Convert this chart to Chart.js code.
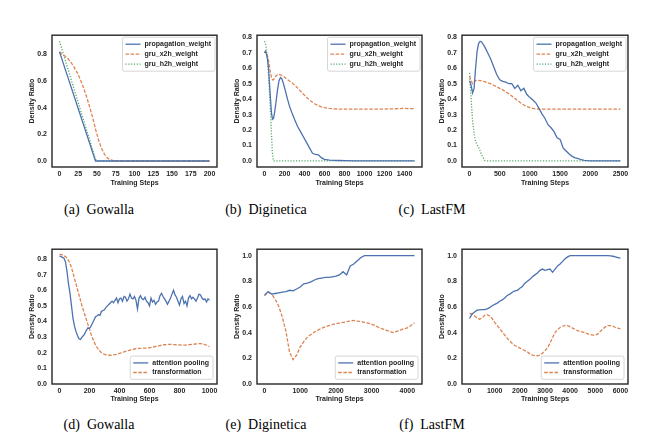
<!DOCTYPE html>
<html>
<head>
<meta charset="utf-8">
<script src="https://cdn.jsdelivr.net/npm/chart.js@4"></script>
<style>
  body { margin: 0; width: 646px; height: 447px; background: #fff; position: relative; overflow: hidden; }
  canvas { position: absolute; }
  .cap { position: absolute; width: 160px; height: 20px; line-height: 20px; text-align: center;
         font-family: "Liberation Serif", "DejaVu Serif", serif; font-size: 14px; color: #000; white-space: pre; }
</style>
</head>
<body>
<div class="cap" style="left:19px;top:200px">(a)  Gowalla</div>
<div class="cap" style="left:186px;top:200px">(b)  Diginetica</div>
<div class="cap" style="left:352px;top:200px">(c)  LastFM</div>
<div class="cap" style="left:19px;top:415px">(d)  Gowalla</div>
<div class="cap" style="left:186px;top:415px">(e)  Diginetica</div>
<div class="cap" style="left:352px;top:415px">(f)  LastFM</div>
<script>
// ---- data ----
const stepsA = [0,4,8,12,16,20,24,28,32,36,40,44,48,52,56,60,64,68,72,76,80,100,120,140,160,180,200];
const propA = [0.82,0.752,0.683,0.615,0.547,0.478,0.41,0.342,0.273,0.205,0.137,0.068,0,0,0,0,0,0,0,0,0,0,0,0,0,0,0];
const x2hA  = [0.82,0.80,0.785,0.765,0.735,0.70,0.66,0.61,0.55,0.485,0.41,0.33,0.24,0.16,0.095,0.05,0.022,0.008,0.003,0.001,0,0,0,0,0,0,0];
const h2hA  = [0.9,0.826,0.752,0.678,0.604,0.53,0.456,0.383,0.309,0.235,0.161,0.087,0.013,0,0,0,0,0,0,0,0,0,0,0,0,0,0];

const stepsB = [0,10,20,30,40,50,60,70,80,90,100,115,130,145,160,175,190,210,230,250,272,300,330,360,390,420,450,480,510,540,570,600,650,700,750,800,900,1000,1100,1200,1300,1400,1500];
const propB = [0.70,0.71,0.69,0.66,0.60,0.50,0.40,0.31,0.27,0.275,0.31,0.38,0.46,0.52,0.54,0.53,0.50,0.45,0.40,0.355,0.315,0.27,0.225,0.19,0.155,0.12,0.085,0.05,0.042,0.04,0.02,0.01,0.006,0.004,0.003,0.002,0.001,0,0,0,0,0,0];
const x2hB  = [0.70,0.71,0.70,0.68,0.65,0.61,0.57,0.54,0.525,0.525,0.535,0.55,0.56,0.56,0.558,0.553,0.547,0.537,0.527,0.518,0.508,0.492,0.473,0.452,0.432,0.413,0.395,0.38,0.367,0.357,0.35,0.345,0.34,0.337,0.336,0.335,0.335,0.335,0.335,0.336,0.338,0.34,0.338];
const h2hB  = [0.775,0.76,0.72,0.66,0.56,0.44,0.32,0.17,0.04,0,0,0,0,0,0,0,0,0,0,0,0,0,0,0,0,0,0,0,0,0,0,0,0,0,0,0,0,0,0,0,0,0,0];

const stepsC = [0,25,50,75,100,125,150,175,200,250,300,350,400,450,500,550,600,650,700,750,800,850,900,950,1000,1050,1100,1150,1200,1250,1300,1350,1400,1450,1500,1550,1600,1650,1700,1750,1800,1850,1900,1950,2000,2100,2200,2300,2400,2500];
const propC = [0.52,0.49,0.44,0.47,0.60,0.71,0.76,0.775,0.77,0.74,0.70,0.66,0.61,0.56,0.525,0.515,0.51,0.50,0.50,0.47,0.49,0.455,0.47,0.43,0.41,0.395,0.375,0.34,0.305,0.275,0.235,0.215,0.19,0.15,0.14,0.085,0.065,0.045,0.03,0.02,0.015,0.008,0.004,0.002,0.001,0,0,0,0,0];
const x2hC  = [0.55,0.52,0.50,0.51,0.52,0.522,0.522,0.52,0.518,0.513,0.507,0.50,0.49,0.48,0.47,0.46,0.447,0.435,0.42,0.405,0.39,0.375,0.362,0.352,0.345,0.34,0.337,0.335,0.335,0.335,0.335,0.335,0.335,0.335,0.335,0.335,0.335,0.335,0.335,0.335,0.335,0.335,0.335,0.335,0.335,0.335,0.335,0.335,0.335,0.335];
const h2hC  = [0.57,0.41,0.26,0.18,0.125,0.105,0.09,0.065,0.04,0.003,0,0,0,0,0,0,0,0,0,0,0,0,0,0,0,0,0,0,0,0,0,0,0,0,0,0,0,0,0,0,0,0,0,0,0,0,0,0,0,0];

const stepsD = [0,10,20,30,40,50,60,70,80,90,100,110,120,130,140,150,160,170,180,190,200,210,220,230,240,250,260,270,280,290,300,310,320,330,340,350,360,370,380,390,400,410,420,430,440,450,460,470,480,490,500,510,520,530,540,550,560,570,580,590,600,610,620,630,640,650,660,670,680,690,700,710,720,730,740,750,760,770,780,790,800,810,820,830,840,850,860,870,880,890,900,910,920,930,940,950,960,970,980,990,1000];
const attD = [0.82,0.815,0.81,0.805,0.78,0.72,0.64,0.58,0.50,0.42,0.37,0.335,0.31,0.29,0.285,0.30,0.31,0.325,0.345,0.36,0.355,0.37,0.39,0.41,0.43,0.435,0.445,0.44,0.465,0.47,0.475,0.49,0.50,0.51,0.52,0.53,0.52,0.535,0.55,0.52,0.545,0.55,0.53,0.56,0.555,0.53,0.545,0.575,0.55,0.545,0.56,0.535,0.48,0.55,0.565,0.545,0.54,0.555,0.53,0.52,0.50,0.55,0.525,0.535,0.51,0.525,0.53,0.565,0.58,0.56,0.545,0.53,0.51,0.53,0.55,0.575,0.60,0.57,0.555,0.53,0.505,0.545,0.56,0.515,0.53,0.50,0.55,0.565,0.545,0.555,0.545,0.53,0.55,0.575,0.57,0.55,0.54,0.545,0.525,0.545,0.535];
const transD = [0.83,0.83,0.825,0.82,0.815,0.805,0.79,0.77,0.745,0.71,0.675,0.64,0.605,0.57,0.535,0.50,0.47,0.44,0.41,0.38,0.35,0.32,0.295,0.27,0.25,0.235,0.22,0.21,0.2,0.195,0.19,0.187,0.185,0.184,0.184,0.185,0.186,0.188,0.19,0.193,0.196,0.199,0.202,0.205,0.208,0.211,0.214,0.217,0.22,0.222,0.224,0.226,0.227,0.228,0.228,0.229,0.229,0.23,0.23,0.231,0.232,0.234,0.236,0.238,0.24,0.242,0.244,0.246,0.248,0.25,0.251,0.252,0.253,0.253,0.253,0.253,0.252,0.252,0.251,0.25,0.25,0.249,0.249,0.249,0.249,0.25,0.251,0.252,0.253,0.254,0.255,0.256,0.257,0.258,0.258,0.257,0.255,0.252,0.248,0.244,0.24];

const stepsE = [0,100,200,300,400,500,600,700,800,900,1000,1100,1200,1300,1400,1500,1600,1700,1800,1900,2000,2100,2200,2300,2400,2500,2600,2700,2800,2900,3000,3100,3200,3300,3400,3500,3600,3700,3800,3900,4000,4100,4200];
const attE = [0.69,0.72,0.70,0.705,0.71,0.715,0.72,0.73,0.725,0.74,0.755,0.78,0.785,0.795,0.81,0.82,0.825,0.83,0.83,0.835,0.84,0.85,0.875,0.85,0.92,0.935,0.96,0.985,1.0,1.0,1.0,1.0,1.0,1.0,1.0,1.0,1.0,1.0,1.0,1.0,1.0,1.0,1.0];
const transE = [0.69,0.715,0.70,0.66,0.605,0.52,0.41,0.25,0.19,0.225,0.29,0.33,0.365,0.385,0.405,0.42,0.435,0.445,0.455,0.462,0.47,0.475,0.48,0.485,0.49,0.495,0.49,0.487,0.48,0.475,0.465,0.455,0.44,0.43,0.42,0.41,0.40,0.41,0.42,0.43,0.437,0.455,0.475];

const stepsF = [0,100,200,300,400,500,600,700,800,900,1000,1100,1200,1300,1400,1500,1600,1700,1800,1900,2000,2100,2200,2300,2400,2500,2600,2700,2800,2900,3000,3100,3200,3300,3400,3500,3600,3700,3800,3900,4000,4100,4200,4300,4400,4500,4600,4700,4800,4900,5000,5100,5200,5300,5400,5500,5600,5700,5800,5900,6000];
const attF = [0.51,0.545,0.56,0.575,0.578,0.58,0.58,0.585,0.595,0.61,0.62,0.63,0.645,0.655,0.67,0.69,0.70,0.715,0.725,0.73,0.745,0.76,0.785,0.80,0.815,0.835,0.85,0.865,0.885,0.895,0.885,0.89,0.895,0.87,0.895,0.92,0.935,0.955,0.975,0.99,1.0,1.0,1.0,1.0,1.0,1.0,1.0,1.0,1.0,1.0,1.0,1.0,1.0,1.0,1.0,1.0,0.998,0.995,0.99,0.985,0.98];
const transF = [0.55,0.545,0.53,0.515,0.505,0.515,0.535,0.54,0.53,0.51,0.48,0.455,0.43,0.405,0.38,0.355,0.335,0.315,0.30,0.29,0.28,0.27,0.26,0.25,0.235,0.225,0.22,0.22,0.225,0.24,0.26,0.28,0.32,0.36,0.40,0.425,0.44,0.45,0.457,0.455,0.445,0.435,0.425,0.415,0.41,0.405,0.40,0.39,0.385,0.38,0.38,0.39,0.41,0.43,0.445,0.455,0.455,0.45,0.44,0.435,0.43];

const xTicksA = [0,25,50,75,100,125,150,175,200];
const xTicksB = [0,200,400,600,800,1000,1200,1400];
const xTicksC = [0,500,1000,1500,2000,2500];
const xTicksD = [0,200,400,600,800,1000];
const xTicksE = [0,1000,2000,3000,4000];
const xTicksF = [0,1000,2000,3000,4000,5000,6000];
const yTicksA = [0,0.2,0.4,0.6,0.8];
const yTicksB = [0,0.1,0.2,0.3,0.4,0.5,0.6,0.7,0.8];
const yTicksD = [0,0.1,0.2,0.3,0.4,0.5,0.6,0.7,0.8];
const yTicksE = [0,0.2,0.4,0.6,0.8,1.0];

const BLUE = '#4C72B0', ORANGE = '#DD8452', GREEN = '#55A868';
const INK = '#262626';
const FONT = { family: '"Liberation Sans", Arial, sans-serif', size: 7, weight: 'bold' };

// frame around the plot area (matplotlib spines)
const framePlugin = {
  id: 'frame',
  afterDatasetsDraw(chart) {
    const a = chart.chartArea, c = chart.ctx;
    c.save();
    c.strokeStyle = INK;
    c.lineWidth = 1.4;
    c.strokeRect(a.left, a.top, a.right - a.left, a.bottom - a.top);
    c.restore();
  }
};

// legend drawn inside the axes
const legendPlugin = {
  id: 'insideLegend',
  afterDraw(chart, args, opts) {
    const a = chart.chartArea, c = chart.ctx;
    const sets = chart.data.datasets;
    c.save();
    c.font = 'bold 7px "Liberation Sans", Arial, sans-serif';
    const tw = Math.max(...sets.map(d => c.measureText(d.label).width));
    const w = 22 + tw + 4, h = sets.length * opts.rowH + 4;
    const x = a.right - opts.inset - w;
    const y = opts.corner === 'top' ? a.top + opts.inset : a.bottom - opts.bottomInset - h;
    c.fillStyle = 'rgba(255,255,255,0.85)';
    c.strokeStyle = '#cccccc';
    c.lineWidth = 0.8;
    c.beginPath();
    c.roundRect(x, y, w, h, 2);
    c.fill();
    c.stroke();
    sets.forEach((d, i) => {
      const cy = y + 2 + opts.rowH * (i + 0.5);
      c.strokeStyle = d.borderColor;
      c.lineWidth = d.borderWidth;
      c.setLineDash(d.borderDash || []);
      c.beginPath();
      c.moveTo(x + 3, cy);
      c.lineTo(x + 18, cy);
      c.stroke();
      c.setLineDash([]);
      c.fillStyle = INK;
      c.textBaseline = 'middle';
      c.fillText(d.label, x + 22, cy);
    });
    c.restore();
  }
};

function panel(p) {
  const yW = 24, padTop = 6, padRight = 6, padBottom = 2;
  const [l, t, r, b] = p.area;
  const W = r - l + yW + padRight;
  const H = b - t + padTop + p.xH + padBottom;
  const cv = document.createElement('canvas');
  cv.width = W; cv.height = H;
  cv.style.left = (l - yW) + 'px';
  cv.style.top = (t - padTop) + 'px';
  cv.style.width = W + 'px';
  cv.style.height = H + 'px';
  document.body.appendChild(cv);

  new Chart(cv, {
    type: 'line',
    data: {
      datasets: p.series.map(s => ({
        label: s.label,
        data: p.steps.map((x, i) => ({ x: x, y: s.values[i] })),
        borderColor: s.color,
        borderWidth: 1.3,
        borderDash: s.dash,
        pointRadius: 0,
        fill: false,
        tension: 0
      }))
    },
    options: {
      responsive: false,
      animation: false,
      devicePixelRatio: 1,
      layout: { padding: { left: 0, top: padTop, right: padRight, bottom: padBottom } },
      plugins: {
        legend: { display: false },
        tooltip: { enabled: false },
        insideLegend: p.legend
      },
      scales: {
        x: {
          type: 'linear',
          min: p.xRange[0], max: p.xRange[1],
          afterBuildTicks: s => { s.ticks = p.xTicks.map(v => ({ value: v })); },
          afterFit: s => { s.height = p.xH; },
          grid: { display: false, drawTicks: false },
          border: { display: false },
          ticks: { font: FONT, color: INK, padding: 3, maxRotation: 0, autoSkip: false, callback: v => String(v) },
          title: { display: true, text: 'Training Steps', font: FONT, color: INK, padding: 0 }
        },
        y: {
          min: p.yRange[0], max: p.yRange[1],
          afterBuildTicks: s => { s.ticks = p.yTicks.map(v => ({ value: v })); },
          afterFit: s => { s.width = yW; },
          grid: { display: false, drawTicks: false },
          border: { display: false },
          ticks: { font: FONT, color: INK, padding: 5, autoSkip: false, callback: v => v.toFixed(1) },
          title: { display: true, text: 'Density Ratio', font: FONT, color: INK, padding: 0 }
        }
      }
    },
    plugins: [framePlugin, legendPlugin]
  });
}

const topLegend = { corner: 'top', inset: 2, rowH: 10 };
const botLegend = { corner: 'bottom', inset: 4, bottomInset: 4.7, rowH: 9.6 };
const gruSeries = (prop, x2h, h2h) => [
  { label: 'propagation_weight', values: prop, color: BLUE, dash: [] },
  { label: 'gru_x2h_weight', values: x2h, color: ORANGE, dash: [3.5, 1.6] },
  { label: 'gru_h2h_weight', values: h2h, color: GREEN, dash: [1.2, 1.6] }
];
const attSeries = (att, trans) => [
  { label: 'attention pooling', values: att, color: BLUE, dash: [] },
  { label: 'transformation', values: trans, color: ORANGE, dash: [3.5, 1.6] }
];

panel({ area: [52, 32, 217, 167], xH: 20, steps: stepsA, series: gruSeries(propA, x2hA, h2hA),
        xRange: [-10, 210], yRange: [-0.045, 0.945], xTicks: xTicksA, yTicks: yTicksA, legend: topLegend });
panel({ area: [257, 32, 422, 167], xH: 20, steps: stepsB, series: gruSeries(propB, x2hB, h2hB),
        xRange: [-75, 1575], yRange: [-0.039, 0.814], xTicks: xTicksB, yTicks: yTicksB, legend: topLegend });
panel({ area: [462, 32, 628, 167], xH: 20, steps: stepsC, series: gruSeries(propC, x2hC, h2hC),
        xRange: [-125, 2625], yRange: [-0.039, 0.814], xTicks: xTicksC, yTicks: yTicksB, legend: topLegend });
panel({ area: [52, 246, 217, 384], xH: 19, steps: stepsD, series: attSeries(attD, transD),
        xRange: [-50, 1050], yRange: [0, 0.8625], xTicks: xTicksD, yTicks: yTicksD, legend: botLegend });
panel({ area: [257, 246, 422, 384], xH: 19, steps: stepsE, series: attSeries(attE, transE),
        xRange: [-210, 4410], yRange: [0, 1.05], xTicks: xTicksE, yTicks: yTicksE, legend: botLegend });
panel({ area: [462, 246, 628, 384], xH: 19, steps: stepsF, series: attSeries(attF, transF),
        xRange: [-300, 6300], yRange: [0, 1.05], xTicks: xTicksF, yTicks: yTicksE, legend: botLegend });
</script>
</body>
</html>
